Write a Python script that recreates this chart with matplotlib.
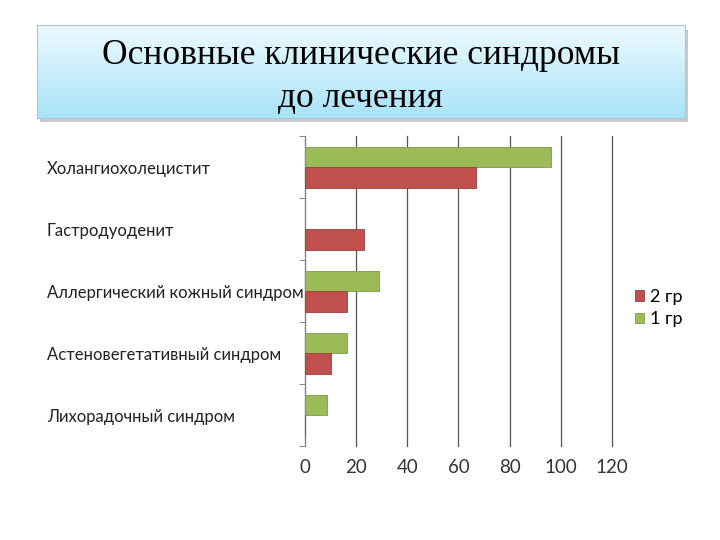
import numpy as np
import matplotlib
matplotlib.use('Agg')
import matplotlib.pyplot as plt
from matplotlib.patches import Rectangle

# data, top to bottom as in the picture
categories = ['Холангиохолецистит', 'Гастродуоденит', 'Аллергический кожный синдром',
              'Астеновегетативный синдром', 'Лихорадочный синдром']
group1 = [96, 0, 29, 16.5, 8.5]   # 1 гр (green)
group2 = [67, 23, 16.5, 10, 0]    # 2 гр (red)
xticks = [0, 20, 40, 60, 80, 100, 120]
title = 'Основные клинические синдромы\nдо лечения'

RED = '#C0504D'
GREEN = '#9BBB59'
SANS = ['Lato', 'DejaVu Sans']

fig = plt.figure(figsize=(7.2, 5.4), dpi=100)

# title box with gradient and shadow
shadow = fig.add_axes([0.055, 0.775, 0.9, 0.17])
shadow.set_axis_off()
shadow.add_patch(Rectangle((0, 0), 1, 1, color='#9a9a9a', alpha=0.5, transform=shadow.transAxes))
box = fig.add_axes([0.051, 0.782, 0.9, 0.172])
grad = np.linspace(0, 1, 100).reshape(-1, 1)
top = np.array([0.93, 0.98, 1.0])
bot = np.array([0.66, 0.89, 0.97])
img = top + (bot - top) * grad[:, :, None]
box.imshow(img, aspect='auto', extent=[0, 1, 0, 1])
box.set_xticks([])
box.set_yticks([])
for s in box.spines.values():
    s.set_color('#a8c8d8')
    s.set_linewidth(0.8)
box.text(0.5, 0.44, title, ha='center', va='center', fontsize=25.5,
         family='Liberation Serif', linespacing=1.4, transform=box.transAxes)

# chart
ax = fig.add_axes([0.4236, 0.174, 0.4264, 0.574])
n = len(categories)
pos = np.arange(n)[::-1]
h = 0.33
ax.barh(pos + h / 2, group1, height=h, color=GREEN, edgecolor='#7f9a48', linewidth=0.6, label='1 гр', zorder=3)
ax.barh(pos - h / 2, group2, height=h, color=RED, edgecolor='#9c3e3c', linewidth=0.6, label='2 гр', zorder=3)

ax.set_xlim(0, 120)
ax.set_ylim(-0.5, n - 0.5)
ax.set_xticks(xticks)
ax.set_xticklabels([str(t) for t in xticks], fontsize=13.5, family=SANS, color='#333333')
ax.tick_params(axis='x', length=0, pad=9)
ax.grid(axis='x', color='#555555', linewidth=0.9, zorder=0)
for gl in ax.get_xgridlines():
    gl.set_clip_on(False)

ax.set_yticks(pos)
ax.set_yticklabels(categories, fontsize=12, family=SANS, ha='left', color='#222222')
ax.tick_params(axis='y', which='major', length=0, pad=185.8)
ax.set_yticks(np.arange(n + 1) - 0.5, minor=True)
ax.tick_params(axis='y', which='minor', length=4, color='#777777')

for side in ['top', 'right', 'bottom']:
    ax.spines[side].set_visible(False)
ax.spines['left'].set_color('#888888')

handles, labels = ax.get_legend_handles_labels()
fig.legend(handles[::-1], labels[::-1], loc='upper left', bbox_to_anchor=(0.86, 0.495),
           frameon=False, prop={'family': SANS, 'size': 13},
           handlelength=0.5, handleheight=0.5, handletextpad=0.3, labelspacing=0.35)

fig.savefig('out.png', dpi=100)
